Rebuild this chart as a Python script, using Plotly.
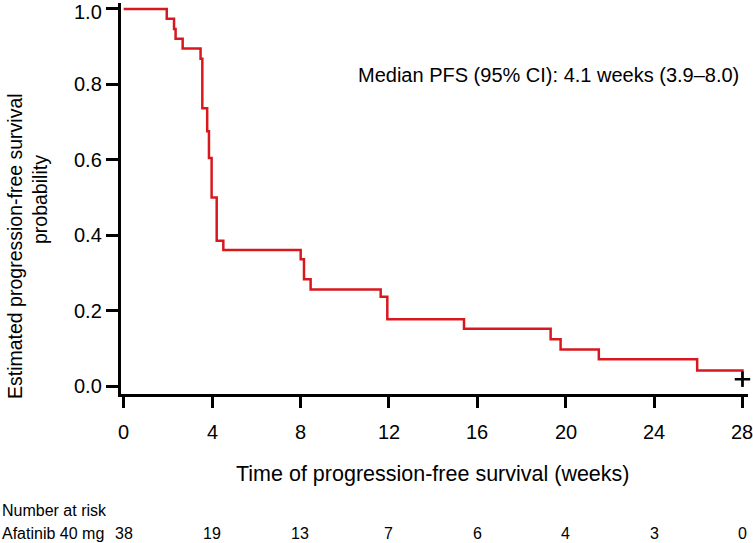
import plotly.graph_objects as go

# Kaplan-Meier step data (weeks, survival probability)
times = [0, 1.95, 2.28, 2.35, 2.67, 3.48, 3.56, 3.78, 3.86, 3.98, 4.21, 4.51,
         8.01, 8.16, 8.46, 11.63, 11.93, 15.40, 19.32, 19.77, 21.50, 25.95, 28.0]
surv = [1.0, 0.974, 0.947, 0.921, 0.895, 0.868, 0.737, 0.676, 0.605, 0.500, 0.385, 0.361,
        0.336, 0.283, 0.256, 0.237, 0.177, 0.152, 0.124, 0.097, 0.071, 0.041, 0.0]

censor_t = [28.0]
censor_s = [0.018]

x_ticks = [0, 4, 8, 12, 16, 20, 24, 28]
y_ticks = [0.0, 0.2, 0.4, 0.6, 0.8, 1.0]
at_risk = [38, 19, 13, 7, 6, 4, 3, 0]

FONT = "Liberation Sans"
RED = "#d7191f"

fig = go.Figure()
fig.add_trace(go.Scatter(x=times, y=surv, mode="lines", line=dict(color=RED, width=2.5, shape="hv"),
                         showlegend=False, hoverinfo="skip", cliponaxis=False))
fig.add_trace(go.Scatter(x=censor_t, y=censor_s, mode="markers",
                         marker=dict(symbol="cross-thin", size=11, line=dict(color="black", width=2.5)),
                         showlegend=False, hoverinfo="skip", cliponaxis=False))

W, H = 753, 543
L, R, T, B = 121, 5, 3, 149
PW = W - L - R
PH = H - T - B  # 391

fig.update_layout(
    width=W, height=H,
    margin=dict(l=L, r=R, t=T, b=B),
    plot_bgcolor="white", paper_bgcolor="white",
    font=dict(family=FONT, size=17, color="black"),
    xaxis=dict(range=[-0.12, 28.25], tickvals=x_ticks, showticklabels=False,
               showline=True, linecolor="black", linewidth=2.5, ticks="outside", ticklen=11,
               tickwidth=2.5, tickcolor="black", showgrid=False, zeroline=False),
    yaxis=dict(range=[-0.0212, 1.0159], tickvals=y_ticks, showticklabels=False,
               showline=True, linecolor="black", linewidth=2.5, ticks="outside", ticklen=12,
               tickwidth=2.5, tickcolor="black", showgrid=False, zeroline=False),
)

def py(pix):
    return (H - B - pix) / PH

def px(pix):
    return (pix - L) / PW

anns = []
# tick labels
for t in x_ticks:
    anns.append(dict(text=str(t), xref="x", yref="paper", x=t, y=py(432),
                     xanchor="center", yanchor="middle", showarrow=False, font=dict(size=20)))
for v in y_ticks:
    anns.append(dict(text=f"{v:.1f}", xref="paper", yref="y", x=px(104), y=v,
                     xanchor="right", yanchor="middle", yshift=-3 if v == 1.0 else 0,
                     showarrow=False, font=dict(size=20)))
anns.append(dict(text="Time of progression-free survival (weeks)", xref="paper", yref="paper",
                 x=px(433), y=py(474), xanchor="center", yanchor="middle",
                 showarrow=False, font=dict(size=21.5)))
anns.append(dict(text="Estimated progression-free survival", xref="paper", yref="paper",
                 x=px(15), y=py(246), xanchor="center", yanchor="middle",
                 textangle=-90, showarrow=False, font=dict(size=19.5)))
anns.append(dict(text="probability", xref="paper", yref="paper",
                 x=px(40), y=py(200), xanchor="center", yanchor="middle",
                 textangle=-90, showarrow=False, font=dict(size=19.5)))
anns.append(dict(text="Median PFS (95% CI): 4.1 weeks (3.9–8.0)", xref="paper", yref="paper",
                 x=px(741), y=py(75), xanchor="right", yanchor="middle",
                 showarrow=False, font=dict(size=20)))
anns.append(dict(text="Number at risk", xref="paper", yref="paper",
                 x=px(0), y=py(510), xanchor="left", yanchor="middle",
                 showarrow=False, font=dict(size=16)))
anns.append(dict(text="Afatinib 40 mg", xref="paper", yref="paper",
                 x=px(0), y=py(533), xanchor="left", yanchor="middle",
                 showarrow=False, font=dict(size=16)))
for t, n in zip(x_ticks, at_risk):
    anns.append(dict(text=str(n), xref="x", yref="paper", x=t, y=py(533),
                     xanchor="center", yanchor="middle", showarrow=False, font=dict(size=16)))
fig.update_layout(annotations=anns)

fig.write_html("out.html", config={"displayModeBar": False},
               post_script="document.body.style.margin='0';document.body.style.overflow='hidden';")
